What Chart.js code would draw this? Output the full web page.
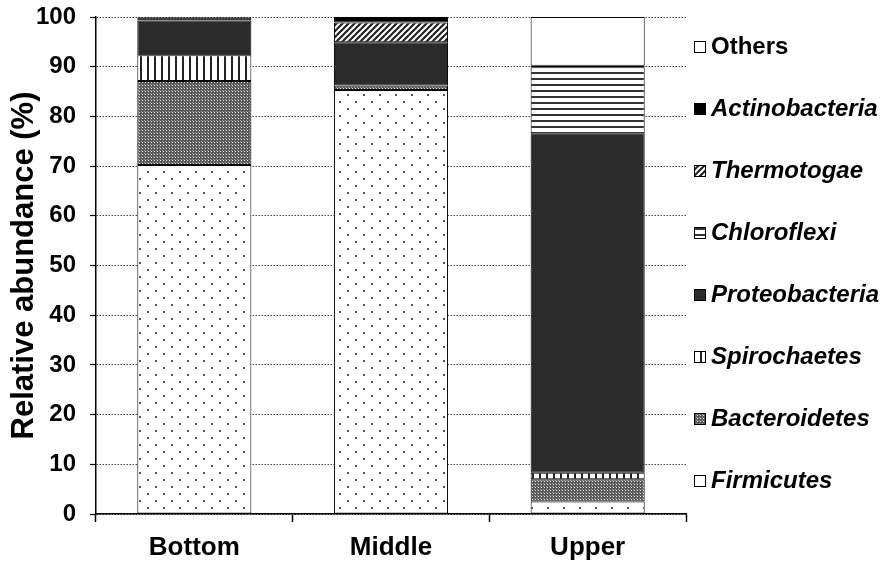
<!DOCTYPE html>
<html>
<head>
<meta charset="utf-8">
<script src="https://cdn.jsdelivr.net/npm/chart.js@4/dist/chart.umd.min.js"></script>
<style>
html,body{margin:0;padding:0;background:#fff;}
canvas{display:block;}
</style>
</head>
<body>
<canvas id="c" width="882" height="562"></canvas>
<script>
const categories = ["Bottom", "Middle", "Upper"];
const seriesNames = ["Firmicutes", "Bacteroidetes", "Spirochaetes", "Proteobacteria", "Chloroflexi", "Thermotogae", "Actinobacteria", "Others"];
const firmicutes     = [70.2, 85.3, 2.5];
const bacteroidetes  = [16.9, 0.9, 4.5];
const spirochaetes   = [5.2, 0, 1.3];
const proteobacteria = [7.0, 8.7, 68.3];
const chloroflexi    = [0, 0, 13.3];
const thermotogae    = [0, 4.0, 0];
const actinobacteria = [0.6, 1.1, 0.3];
const others         = [0.1, 0, 9.8];
const yTicks = [0, 10, 20, 30, 40, 50, 60, 70, 80, 90, 100];

const FONT = '"Liberation Sans", Arial, sans-serif';

function makePattern(w, h, draw) {
  const c = document.createElement('canvas');
  c.width = w; c.height = h;
  const g = c.getContext('2d');
  draw(g, w, h);
  return g.createPattern(c, 'repeat');
}
const patDots = makePattern(16, 14, (g, w, h) => {
  g.fillStyle = '#fff'; g.fillRect(0, 0, w, h);
  g.fillStyle = '#555';
  g.fillRect(3, 3, 2, 2);
  g.fillRect(11, 10, 2, 2);
});
const patMesh = makePattern(3, 3, (g, w, h) => {
  g.fillStyle = '#585858'; g.fillRect(0, 0, w, h);
  g.fillStyle = '#e8e8e8'; g.fillRect(1, 1, 1, 1);
  g.fillStyle = '#a0a0a0'; g.fillRect(0, 0, 1, 1);
});
const patVert = makePattern(7, 4, (g, w, h) => {
  g.fillStyle = '#fff'; g.fillRect(0, 0, w, h);
  g.fillStyle = '#222'; g.fillRect(0, 0, 2, h);
});
const patHorz = makePattern(4, 6, (g, w, h) => {
  g.fillStyle = '#fff'; g.fillRect(0, 0, w, h);
  g.fillStyle = '#333'; g.fillRect(0, 0, w, 2);
});
const patDiag = makePattern(6, 6, (g, w, h) => {
  g.fillStyle = '#fff'; g.fillRect(0, 0, w, h);
  g.strokeStyle = '#222'; g.lineWidth = 2.2;
  for (let k = -1; k <= 1; k++) {
    g.beginPath();
    g.moveTo(k * w - 1, h + 1);
    g.lineTo(k * w + w + 1, -1);
    g.stroke();
  }
});

const fills = [patDots, patMesh, patVert, '#2b2b2b', patHorz, patDiag, '#000000', '#ffffff'];
const values = [firmicutes, bacteroidetes, spirochaetes, proteobacteria, chloroflexi, thermotogae, actinobacteria, others];

const datasets = seriesNames.map((name, i) => ({
  label: name,
  data: values[i],
  backgroundColor: fills[i],
  borderColor: '#000',
  borderWidth: 1,
  borderSkipped: false,
  barPercentage: 0.58,
  categoryPercentage: 1.0
}));

const legendPlugin = {
  id: 'sideLegend',
  afterDraw(chart) {
    const ctx = chart.ctx;
    const area = chart.chartArea;
    const x0 = area.right + 8;
    ctx.save();
    for (let k = 0; k < seriesNames.length; k++) {
      const idx = seriesNames.length - 1 - k;
      const y = area.top + 30 + k * 62;
      ctx.fillStyle = fills[idx];
      ctx.fillRect(x0, y - 6, 12, 12);
      ctx.strokeStyle = '#000';
      ctx.lineWidth = 1;
      ctx.strokeRect(x0 + 0.5, y - 5.5, 11, 11);
      const italic = seriesNames[idx] !== 'Others';
      ctx.font = (italic ? 'italic ' : '') + 'bold 24px ' + FONT;
      ctx.fillStyle = '#000';
      ctx.textBaseline = 'middle';
      ctx.textAlign = 'left';
      ctx.fillText(seriesNames[idx], x0 + 17, y);
    }
    ctx.restore();
  }
};

new Chart(document.getElementById('c'), {
  type: 'bar',
  data: { labels: categories, datasets },
  options: {
    responsive: false,
    animation: false,
    layout: { padding: { top: 17, right: 196, left: 0, bottom: 0 } },
    plugins: { legend: { display: false }, tooltip: { enabled: false } },
    scales: {
      x: {
        stacked: true,
        offset: true,
        grid: { display: true, drawOnChartArea: false, offset: true, tickLength: 8, tickColor: '#000', tickWidth: 1.5 },
        border: { display: true, color: '#000', width: 1.5 },
        ticks: { color: '#000', font: { family: FONT, size: 26, weight: 'bold' }, padding: 10 },
        afterFit(s) { s.height = 48; s.paddingLeft = 0; s.paddingRight = 0; }
      },
      y: {
        stacked: true,
        min: 0, max: 100,
        afterBuildTicks(s) { s.ticks = yTicks.map(v => ({ value: v })); },
        grid: { color: '#444', lineWidth: 1, tickLength: 6, tickColor: '#000', tickWidth: 1.2 },
        border: { display: true, color: '#000', width: 1.5, dash: [1.5, 1.5] },
        ticks: { color: '#000', font: { family: FONT, size: 24, weight: 'bold' }, padding: 14 },
        title: { display: true, text: 'Relative abundance (%)', color: '#000', font: { family: FONT, size: 31, weight: 'bold' }, padding: { top: 6, bottom: 0 } },
        afterFit(s) { s.width = 96; s.paddingTop = 0; s.paddingBottom = 0; }
      }
    }
  },
  plugins: [legendPlugin]
});
</script>
</body>
</html>
